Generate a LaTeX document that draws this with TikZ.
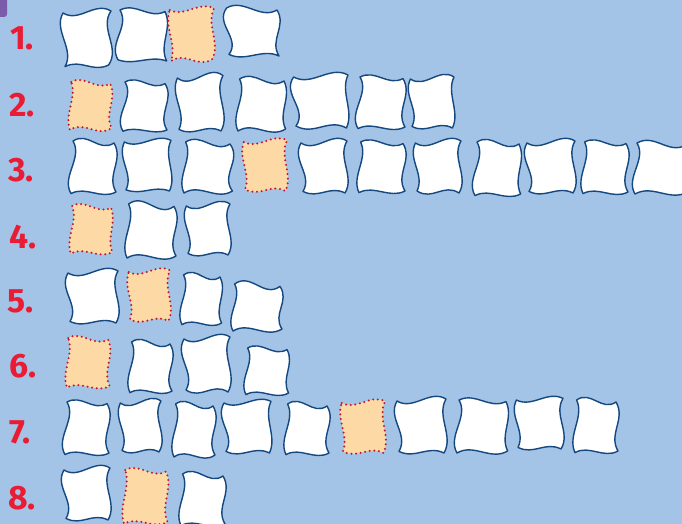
\documentclass[tikz,border=0pt]{standalone}
\usepackage{fontspec}
\usepackage{tikz}
\newfontfamily\numfont{Fira Sans}
\definecolor{skyback}{RGB}{163,196,230}
\definecolor{tileline}{RGB}{22,72,128}
\definecolor{peach}{RGB}{253,217,165}
\definecolor{dotred}{RGB}{196,24,40}
\definecolor{numred}{RGB}{232,28,52}
\definecolor{blob}{RGB}{122,92,170}

% wavy tile: style, x, y, w, h, top, right, bottom, left
\newcommand{\tile}[9]{%
  \coordinate (tl) at ({#2+1-0.4*#9},#3);
  \coordinate (tr) at ({#2+#4-1},{#3-0.4*#6});
  \coordinate (br) at ({#2+#4-1+0.4*#7},{#3+#5});
  \coordinate (bl) at ({#2+1},{#3+#5+0.4*#8});
  \draw[#1] (tl)
    .. controls +({#4/3},{2*#6}) and +({-#4/3},{-2*#6}) .. (tr)
    .. controls +({2*#7},{#5/3}) and +({-2*#7},{-#5/3}) .. (br)
    .. controls +({-#4/3},{2*#8}) and +({#4/3},{-2*#8}) .. (bl)
    .. controls +({2*#9},{-#5/3}) and +({-2*#9},{#5/3}) .. (tl) -- cycle;}

\begin{document}
\begin{tikzpicture}[
    x=0.025cm, y=-0.025cm,
    num/.style={anchor=base west, inner sep=0pt, text=numred, font=\numfont\bfseries\fontsize{24}{24}\selectfont},
    plain/.style={draw=tileline, fill=white, line width=1pt, line join=round},
    marked/.style={draw=dotred, fill=peach, line width=1.6pt, line cap=round, dash pattern=on 0pt off 3.3pt}
]
\fill[skyback] (0,0) rectangle (682,524);
\useasboundingbox (0,0) rectangle (682,524);
\fill[blob, rounded corners=2pt] (-3,-3) rectangle (7,17);

% row numbers
\node[num] (lbl1) at (10,50) {1.};
\node[num] (lbl2) at (9,117) {2.};
\node[num] (lbl3) at (8,182) {3.};
\node[num] (lbl4) at (9,248) {4.};
\node[num] (lbl5) at (7,312) {5.};
\node[num] (lbl6) at (9,377) {6.};
\node[num] (lbl7) at (9,443) {7.};
\node[num] (lbl8) at (8,509) {8.};

% row 1
\foreach \x/\y/\w/\h/\a/\b/\c/\d in {64/13/48/52/5/-6/4/5, 117/10/49/51/-4/4/-3/-5, 228/8/50/48/-5/5/-4/6}
  {\tile{plain}{\x}{\y}{\w}{\h}{\a}{\b}{\c}{\d}}
\tile{marked}{170}{10}{45}{49}{4}{-4}{5}{3}

% row 2
\foreach \x/\y/\w/\h/\a/\b/\c/\d in {122/82/44/48/-4/5/3/-5, 178/78/46/53/6/-5/-4/4, 237/79/48/50/-5/4/5/-4, 295/77/54/51/5/-4/-5/6, 357/77/47/50/-4/5/4/-5, 411/79/44/49/5/-4/-4/4}
  {\tile{plain}{\x}{\y}{\w}{\h}{\a}{\b}{\c}{\d}}
\tile{marked}{69}{82}{42}{46}{-4}{4}{5}{-3}

% row 3
\foreach \x/\y/\w/\h/\a/\b/\c/\d in {70/141/45/51/-5/5/4/-5, 125/142/47/49/4/-4/-3/4, 183/142/48/49/-5/6/5/-4, 302/143/46/50/5/-5/-4/5, 358/142/46/49/-4/5/4/-4, 416/143/46/50/5/-5/-5/4, 474/142/46/52/-5/4/4/-5, 528/143/48/50/5/-5/-4/5, 582/142/45/50/-4/5/4/-4, 634/143/53/49/-5/4/5/-5}
  {\tile{plain}{\x}{\y}{\w}{\h}{\a}{\b}{\c}{\d}}
\tile{marked}{244}{142}{44}{49}{4}{-4}{-4}{3}

% row 4
\foreach \x/\y/\w/\h/\a/\b/\c/\d in {126/204/49/52/-6/5/5/-4, 187/206/44/49/5/-5/-4/4}
  {\tile{plain}{\x}{\y}{\w}{\h}{\a}{\b}{\c}{\d}}
\tile{marked}{70}{206}{42}{46}{-4}{3}{4}{-3}

% row 5
\foreach \x/\y/\w/\h/\a/\b/\c/\d in {69/273/50/50/5/-5/-4/5, 181/275/40/48/-5/4/4/-4, 232/284/49/45/-6/5/5/-4}
  {\tile{plain}{\x}{\y}{\w}{\h}{\a}{\b}{\c}{\d}}
\tile{marked}{129}{272}{42}{49}{4}{-4}{-4}{3}

% row 6
\foreach \x/\y/\w/\h/\a/\b/\c/\d in {129/342/42/49/-5/5/4/-4, 185/339/46/53/5/-5/-5/5, 245/348/43/45/-4/4/4/-4}
  {\tile{plain}{\x}{\y}{\w}{\h}{\a}{\b}{\c}{\d}}
\tile{marked}{66}{338}{43}{48}{-4}{4}{4}{-3}

% row 7
\foreach \x/\y/\w/\h/\a/\b/\c/\d in {64/402/44/51/-4/5/4/-5, 121/403/41/49/5/-5/-4/4, 173/404/41/51/-5/5/5/-4, 225/403/47/50/4/-4/-4/5, 285/404/43/49/-5/5/4/-4, 398/401/49/52/5/-5/-4/5, 456/400/51/51/-4/4/5/-5, 517/400/47/49/4/-5/-4/4, 574/400/43/51/-5/5/4/-4}
  {\tile{plain}{\x}{\y}{\w}{\h}{\a}{\b}{\c}{\d}}
\tile{marked}{342}{403}{44}{50}{4}{-4}{-4}{3}

% row 8
\foreach \x/\y/\w/\h/\a/\b/\c/\d in {65/470/46/50/5/-5/-4/5, 180/474/44/50/-5/5/4/-4}
  {\tile{plain}{\x}{\y}{\w}{\h}{\a}{\b}{\c}{\d}}
\tile{marked}{123}{470}{44}{52}{-4}{4}{4}{-3}
\end{tikzpicture}
\end{document}
